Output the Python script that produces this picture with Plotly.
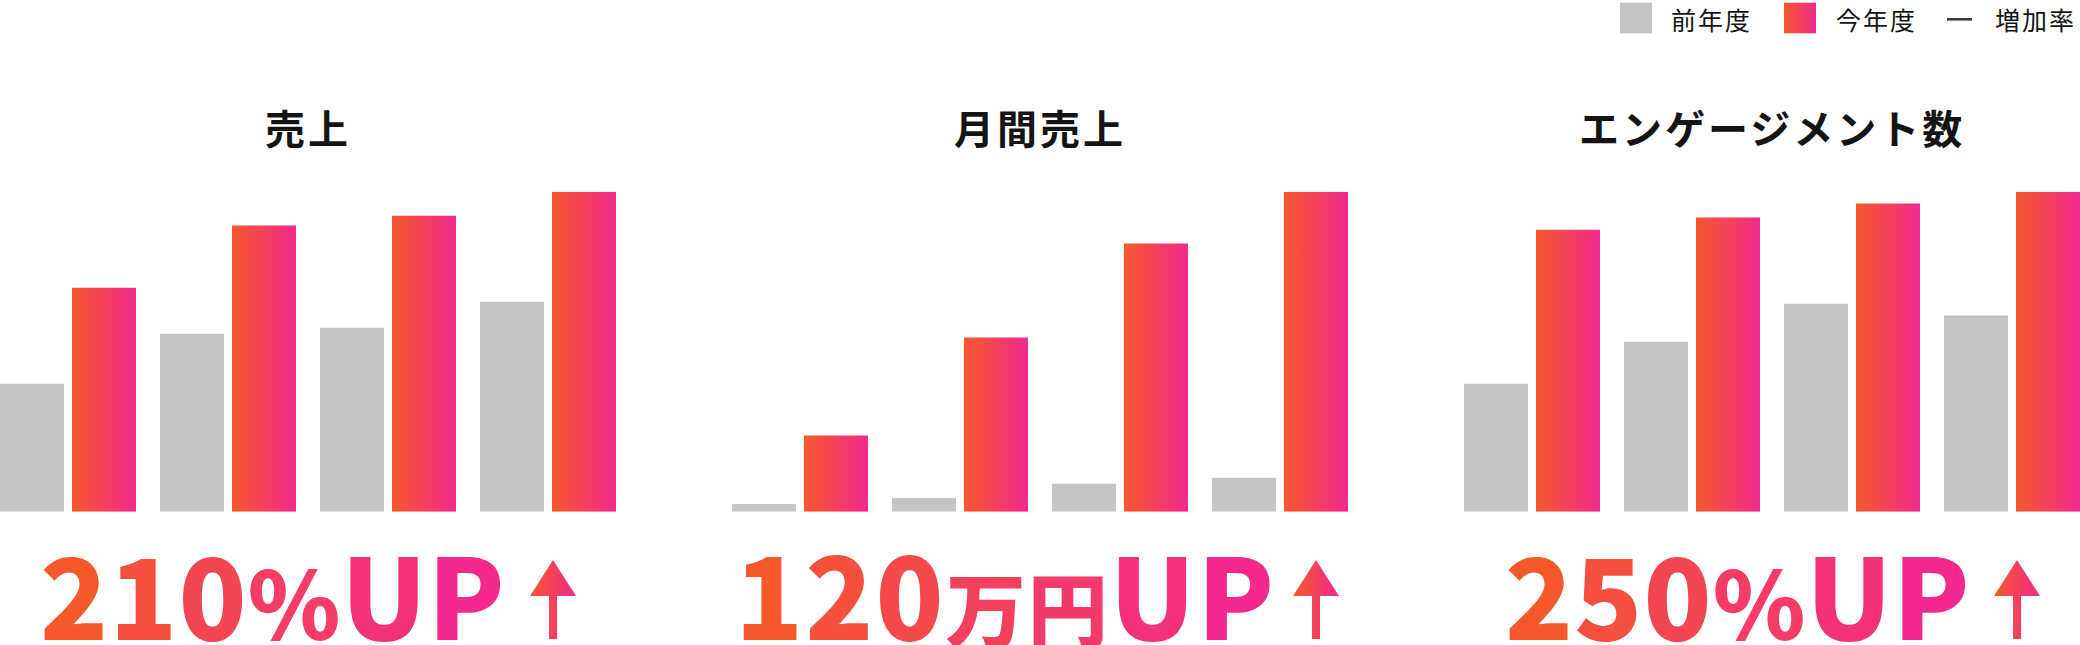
import plotly.graph_objects as go

# bar heights, tallest bar of each panel = 100
categories = [0, 1, 2, 3]
titles = ["売上", "月間売上", "エンゲージメント数"]
prev_year = [
    [40.0, 55.6, 57.5, 65.6],
    [2.4, 4.3, 8.7, 10.6],
    [40.0, 53.1, 65.0, 61.3],
]
this_year = [
    [70.0, 89.4, 92.5, 100.0],
    [23.8, 54.4, 83.8, 100.0],
    [88.1, 91.9, 96.3, 100.0],
]
growth_num = ["210", "120", "250"]
growth_unit = ["%", "万円", "%"]
legend_labels = ["前年度", "今年度", "増加率"]

W, H = 2080, 645
GRAY = "#C4C4C4"
ORANGE = "#F5582B"
PINK = "#F3298D"
INK = "#141414"
FONT = "Noto Sans CJK JP"
grad = [[0, ORANGE], [1, PINK]]

# panel pixel spans
panels = [(0, 616), (732, 1348), (1464, 2080)]
y_dom = [1 - 511.7 / H, 1 - 191.7 / H]
BW = 0.4      # bar width in category units
GAP = 0.05    # gap between the two bars of a pair


def mix(c1, c2, t):
    a = [int(c1[i:i + 2], 16) for i in (1, 3, 5)]
    b = [int(c2[i:i + 2], 16) for i in (1, 3, 5)]
    return "#%02X%02X%02X" % tuple(round(x + (y - x) * t) for x, y in zip(a, b))


fig = go.Figure()

for p in range(3):
    xa = "x" if p == 0 else "x%d" % (p + 1)
    ya = "y" if p == 0 else "y%d" % (p + 1)
    # previous year, plain grey bars
    fig.add_trace(go.Bar(x=categories, y=prev_year[p], width=BW, offset=-(BW + GAP / 2),
                         marker=dict(color=GRAY, line=dict(width=0)),
                         name=legend_labels[0], showlegend=False, xaxis=xa, yaxis=ya))
    # this year, gradient bars (one filled trace per bar so each gets its own gradient)
    for c, v in zip(categories, this_year[p]):
        x0, x1 = c + GAP / 2, c + GAP / 2 + BW
        fig.add_trace(go.Scatter(x=[x0, x1, x1, x0, x0], y=[0, 0, v, v, 0],
                                 mode="lines", line=dict(width=0), fill="toself",
                                 fillgradient=dict(type="horizontal", colorscale=grad),
                                 name=legend_labels[1], showlegend=False, hoverinfo="skip",
                                 xaxis=xa, yaxis=ya))

# overlay axis in pixels for the decorations (legend swatches, arrows)
def arrow(cx, ty):
    px = [0, 23, 4, 4, -4, -4, -23, 0]
    py = [0, 36, 36, 79, 79, 36, 36, 0]
    return [cx + v for v in px], [ty + v for v in py]


for cx in (553, 1316, 2017):
    ax_, ay_ = arrow(cx, 560)
    fig.add_trace(go.Scatter(x=ax_, y=ay_, mode="lines", line=dict(width=0), fill="toself",
                             fillgradient=dict(type="horizontal", colorscale=grad),
                             showlegend=False, hoverinfo="skip", xaxis="x4", yaxis="y4"))

fig.add_trace(go.Scatter(x=[1784, 1816, 1816, 1784, 1784], y=[2.7, 2.7, 33.3, 33.3, 2.7],
                         mode="lines", line=dict(width=0), fill="toself",
                         fillgradient=dict(type="horizontal", colorscale=grad),
                         showlegend=False, hoverinfo="skip", xaxis="x4", yaxis="y4"))

shapes = [
    dict(type="rect", xref="x4", yref="y4", x0=1620, x1=1652, y0=2.7, y1=33.3,
         fillcolor=GRAY, line=dict(width=0)),
    dict(type="line", xref="x4", yref="y4", x0=1947, x1=1972, y0=19.3, y1=19.3,
         line=dict(color="#333333", width=2.5)),
]

annotations = []
for lab, lx in zip(legend_labels, (1670, 1835, 1994)):
    annotations.append(dict(text='<span style="letter-spacing:2px">%s</span>' % lab,
                            x=lx / W, y=1, xref="paper", yref="paper",
                            xanchor="left", yanchor="top", showarrow=False, borderpad=0,
                            font=dict(family=FONT, size=25, color=INK)))

for p, t in enumerate(titles):
    cx = (panels[p][0] + panels[p][1]) / 2
    annotations.append(dict(text='<span style="letter-spacing:3px">%s</span>' % t,
                            x=cx / W, y=1 - 127 / H, xref="paper", yref="paper",
                            xanchor="center", yanchor="middle", showarrow=False,
                            font=dict(family=FONT, size=40, color=INK, weight=700)))

text_cx = [273, 1005, 1737.5]
spacing = [1, 2, 1]
for p in range(3):
    unit_size = 94 if growth_unit[p] == "%" else 80
    parts = [(ch, 112) for ch in growth_num[p]] + [(ch, unit_size) for ch in growth_unit[p]] \
        + [(ch, 112) for ch in "UP"]
    n = len(parts)
    s = ""
    for k, (ch, size) in enumerate(parts):
        col = mix(ORANGE, PINK, k / (n - 1))
        s += '<span style="color:%s;font-size:%dpx;letter-spacing:%dpx">%s</span>' % (
            col, size, spacing[p], ch)
    annotations.append(dict(text=s, x=text_cx[p] / W, y=1 - 590.7 / H,
                            xref="paper", yref="paper", xanchor="center", yanchor="middle",
                            showarrow=False,
                            font=dict(family=FONT, size=112, color=ORANGE, weight=900)))

layout = dict(
    width=W, height=H, margin=dict(l=0, r=0, t=0, b=0),
    paper_bgcolor="white", plot_bgcolor="rgba(0,0,0,0)",
    barmode="overlay", showlegend=False,
    shapes=shapes, annotations=annotations,
    xaxis4=dict(domain=[0, 1], range=[0, W], visible=False, fixedrange=True, anchor="y4"),
    yaxis4=dict(domain=[0, 1], range=[H, 0], visible=False, fixedrange=True, anchor="x4"),
)
for p in range(3):
    sx = "" if p == 0 else str(p + 1)
    layout["xaxis" + sx] = dict(domain=[panels[p][0] / W, panels[p][1] / W],
                                range=[-(BW + GAP / 2), 3 + BW + GAP / 2],
                                visible=False, fixedrange=True, anchor="y" + sx)
    layout["yaxis" + sx] = dict(domain=y_dom, range=[0, 100], visible=False,
                                fixedrange=True, anchor="x" + sx)
fig.update_layout(**layout)

# the page's default body margin would push the chart 8px right and down
fig.write_html("out.html", config={"displayModeBar": False},
               post_script="document.body.style.margin='0';")
